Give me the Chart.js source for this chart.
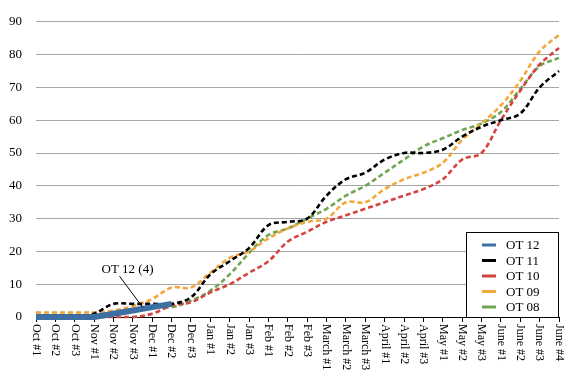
<!DOCTYPE html>
<html>
<head>
<meta charset="utf-8">
<script src="https://cdn.jsdelivr.net/npm/chart.js@4/dist/chart.umd.min.js"></script>
<style>
html,body{margin:0;padding:0;background:#fff;}
#wrap{width:580px;height:390px;}
</style>
</head>
<body>
<div id="wrap"><canvas id="c" width="580" height="390"></canvas></div>
<script>
const categories = ['Oct #1','Oct #2','Oct #3','Nov #1','Nov #2','Nov #3','Dec #1','Dec #2','Dec #3','Jan #1','Jan #2','Jan #3','Feb #1','Feb #2','Feb #3','March #1','March #2','March #3','April #1','April #2','April #3','May #1','May #2','May #3','June #1','June #2','June #3','June #4'];
const seriesNames = ['OT 12','OT 11','OT 10','OT 09','OT 08'];
const ot12 = [0,0,0,0,1,2,3,4];
const ot11 = [0,0,0,1,4,4,4,4,6,13,17,21,28,29,30,37,42,44,48,50,50,51,55,58,60,62,70,75];
const ot10 = [0,0,0,0,0,0,1,3.5,4.5,7.5,10,13.5,17,23,26,29,31,33,35,37,39,42,48,50,60,69,77,82];
const ot09 = [1.3,1.3,1.3,1.3,2,3.3,5.5,9,9,13.5,18,20,24,27,29,30,35,35,39,42,44,47,54,59,64.5,72,81,86];
const ot08 = [1.3,1.3,1.3,1.3,1.5,2,3,3,5,8,13,19.5,25,27,30,33,37,40,44,48,52,54.5,57,59,62.5,69.5,76.5,79];
const annotationText = 'OT 12 (4)';

const SERIF = '"Liberation Serif", "DejaVu Serif", serif';
const colors = ['#3d6fa3','#000000','#d5433f','#f3a83b','#70a552'];

function dashed(label, data, color){
  return {label, data, borderColor: color, backgroundColor: color, borderWidth: 2.6,
    borderDash: [5,3], pointRadius: 0, tension: 0.35, fill: false, clip: false};
}

const xLabelsPlugin = {
  id: 'xLabels',
  afterDraw(chart){
    const ctx = chart.ctx, xs = chart.scales.x, area = chart.chartArea;
    ctx.save();
    ctx.fillStyle = '#000';
    ctx.font = '12px ' + SERIF;
    ctx.textAlign = 'left';
    ctx.textBaseline = 'middle';
    chart.data.labels.forEach((lab, i) => {
      const x = xs.getPixelForValue(i);
      ctx.save();
      ctx.translate(x, area.bottom + 7);
      ctx.rotate(Math.PI / 2);
      ctx.fillText(lab, 0, 0);
      ctx.restore();
    });
    ctx.restore();
  }
};

const legendPlugin = {
  id: 'boxLegend',
  afterDraw(chart){
    const ctx = chart.ctx, area = chart.chartArea;
    const w = 93, h = 85;
    const left = area.right - w, top = area.bottom - h;
    ctx.save();
    ctx.fillStyle = '#fff';
    ctx.fillRect(left, top, w, h);
    ctx.strokeStyle = '#000';
    ctx.lineWidth = 1;
    ctx.strokeRect(left + 0.5, top + 0.5, w - 1, h);
    ctx.font = '13px ' + SERIF;
    ctx.textBaseline = 'middle';
    ctx.textAlign = 'left';
    chart.data.datasets.forEach((ds, i) => {
      const y = top + 13 + i * 15.5;
      ctx.strokeStyle = ds.borderColor;
      ctx.lineWidth = 3;
      ctx.setLineDash([]);
      ctx.beginPath();
      ctx.moveTo(left + 16, y);
      ctx.lineTo(left + 30, y);
      ctx.stroke();
      ctx.fillStyle = '#000';
      ctx.fillText(ds.label, left + 40, y + 1);
    });
    ctx.restore();
  }
};

const annotationPlugin = {
  id: 'note',
  afterDraw(chart){
    const ctx = chart.ctx, xs = chart.scales.x, ys = chart.scales.y;
    const tipX = xs.getPixelForValue(5.5), tipY = ys.getPixelForValue(3);
    ctx.save();
    ctx.strokeStyle = '#000';
    ctx.lineWidth = 1;
    ctx.beginPath();
    ctx.moveTo(tipX - 23, tipY - 31);
    ctx.lineTo(tipX, tipY);
    ctx.stroke();
    ctx.fillStyle = '#000';
    ctx.font = '13px ' + SERIF;
    ctx.textAlign = 'center';
    ctx.textBaseline = 'middle';
    ctx.fillText(annotationText, tipX - 15, tipY - 38);
    ctx.restore();
  }
};

new Chart(document.getElementById('c'), {
  type: 'line',
  data: {
    labels: categories,
    datasets: [
      {label: seriesNames[0], data: ot12, borderColor: colors[0], backgroundColor: colors[0],
       borderWidth: 6, pointRadius: 0, tension: 0, fill: false, clip: false, borderCapStyle: 'butt'},
      dashed(seriesNames[1], ot11, colors[1]),
      dashed(seriesNames[2], ot10, colors[2]),
      dashed(seriesNames[3], ot09, colors[3]),
      dashed(seriesNames[4], ot08, colors[4])
    ]
  },
  options: {
    responsive: false,
    animation: false,
    devicePixelRatio: 1,
    layout: {padding: {top: 13, right: 21, left: 0, bottom: 0}},
    plugins: {legend: {display: false}, tooltip: {enabled: false}},
    scales: {
      x: {
        offset: false,
        grid: {drawOnChartArea: false, drawTicks: true, tickLength: 5, color: '#000', lineWidth: 1},
        border: {display: true, color: '#000', width: 1},
        ticks: {display: false},
        afterFit(s){ s.height = 73; }
      },
      y: {
        min: 0, max: 90,
        grid: {color: '#a6a6a6', lineWidth: 1, drawTicks: false},
        border: {display: false},
        ticks: {stepSize: 10, padding: 14, color: '#000', font: {family: SERIF, size: 13}},
        afterFit(s){ s.width = 36; }
      }
    }
  },
  plugins: [xLabelsPlugin, legendPlugin, annotationPlugin]
});
</script>
</body>
</html>
